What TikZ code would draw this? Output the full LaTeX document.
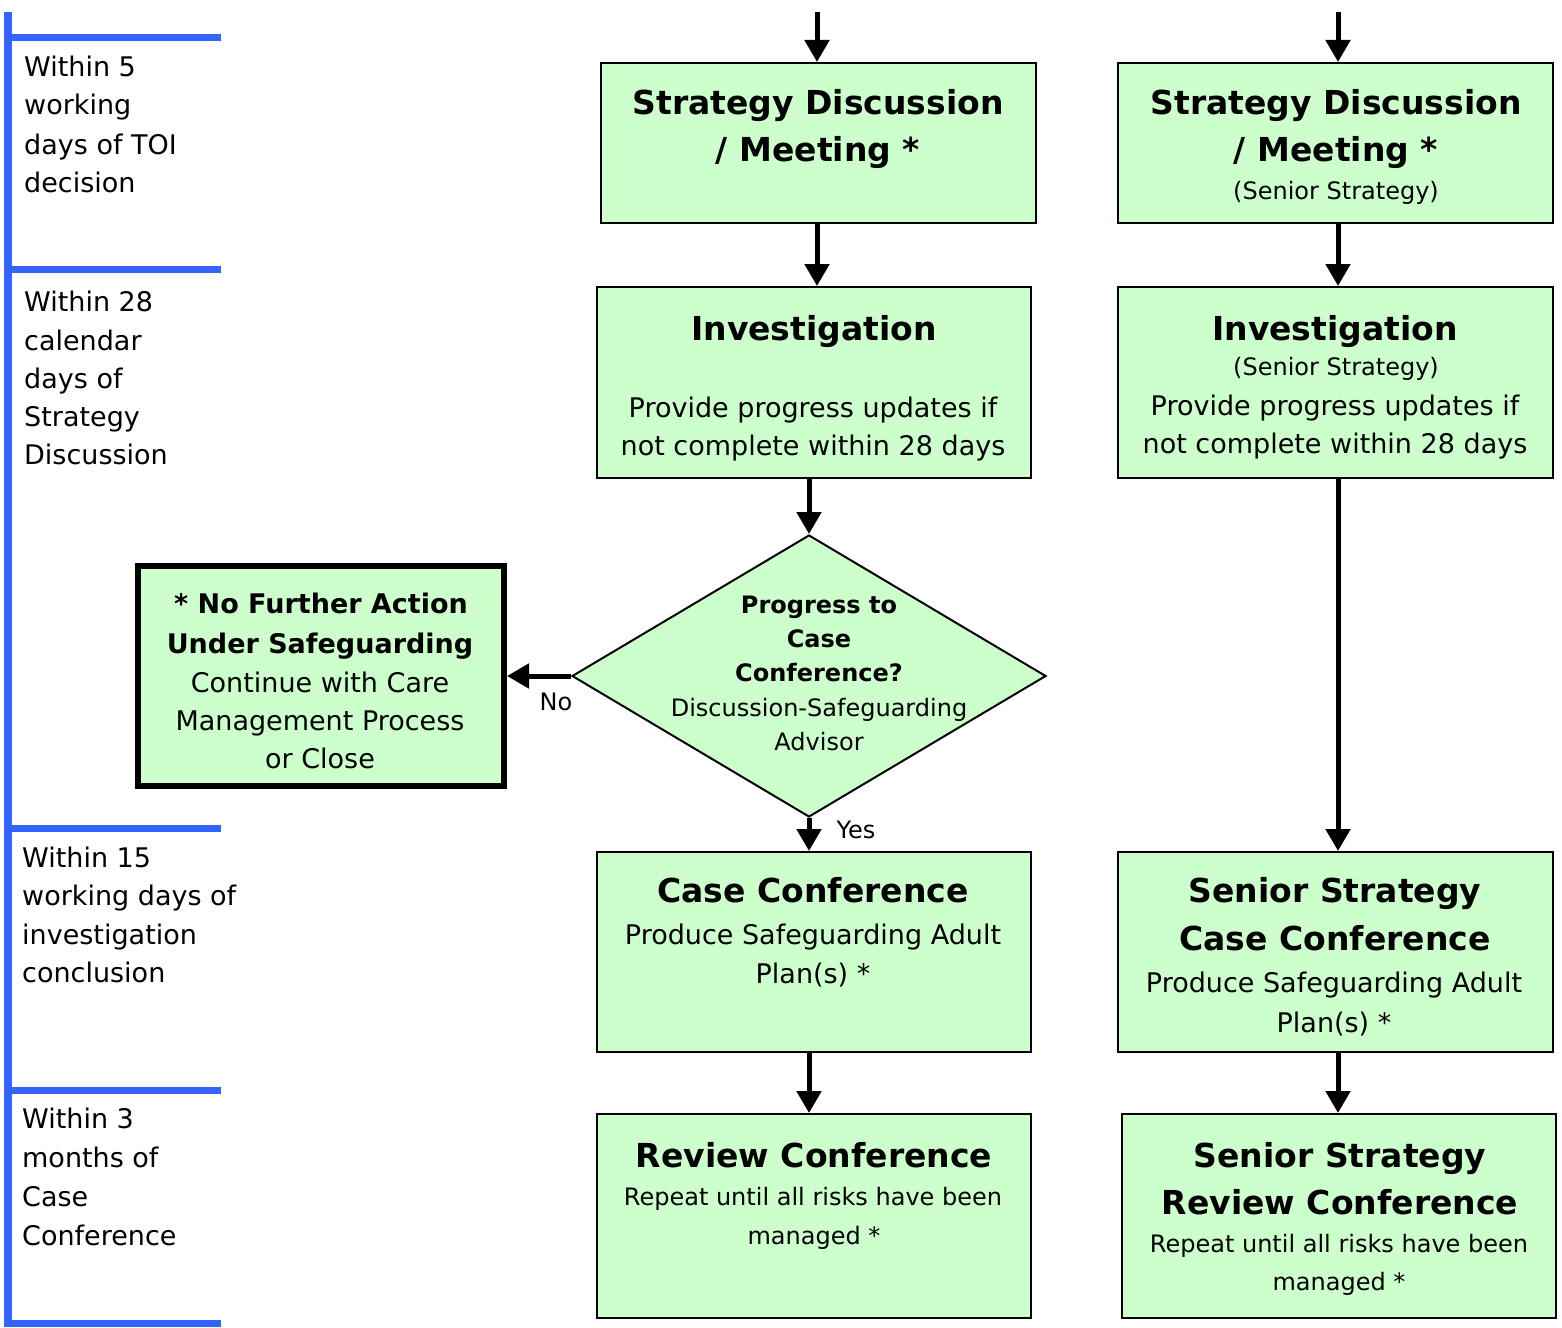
\documentclass[tikz,border=0pt]{standalone}
\usepackage{fontspec}
\setmainfont{DejaVu Sans}
\usetikzlibrary{arrows.meta,shapes.geometric}
\definecolor{boxgreen}{HTML}{CCFFCC}
\definecolor{lineblue}{RGB}{50,100,255}
\tikzset{
  box/.style={draw=black, line width=2pt, fill=boxgreen, inner sep=0pt},
  flow/.style={line width=5pt, -{Triangle[width=24pt,length=22pt]}},
  blueline/.style={draw=lineblue, line width=7pt},
  tx/.style={anchor=base, inner sep=0pt},
  lab/.style={anchor=base west, inner sep=0pt, font=\fontsize{27}{32}\selectfont},
  reg/.style={tx, font=\fontsize{27}{32}\selectfont},
  sm/.style={tx, font=\fontsize{24}{29}\selectfont},
  bt/.style={tx, font=\fontsize{33}{40}\selectfont\bfseries},
  bmid/.style={tx, font=\fontsize{27}{32}\selectfont\bfseries},
  bsm/.style={tx, font=\fontsize{24}{29}\selectfont\bfseries},
}
\begin{document}
\begin{tikzpicture}[x=1pt,y=-1pt]
\useasboundingbox (0,0) rectangle (1562,1327);
% timeline
\draw[draw=lineblue, line width=8pt] (8,12) -- (8,1327);
\foreach \yy in {38,269,828,1090,1323} \draw[blueline] (8,\yy) -- (221,\yy);
% left labels
\node[lab] (g1a) at (24,77) {Within 5};
\node[lab] (g1b) at (24,115) {working};
\node[lab] (g1c) at (24,154) {days of TOI};
\node[lab] (g1d) at (24,192) {decision};
\node[lab] (g2a) at (24,311) {Within 28};
\node[lab] (g2b) at (24,350) {calendar};
\node[lab] (g2c) at (24,388) {days of};
\node[lab] (g2d) at (24,426) {Strategy};
\node[lab] (g2e) at (24,464) {Discussion};
\node[lab] (g3a) at (22,867) {Within 15};
\node[lab] (g3b) at (22,905) {working days of};
\node[lab] (g3c) at (22,944) {investigation};
\node[lab] (g3d) at (22,982) {conclusion};
\node[lab] (g4a) at (22,1128) {Within 3};
\node[lab] (g4b) at (22,1167) {months of};
\node[lab] (g4c) at (22,1206) {Case};
\node[lab] (g4d) at (22,1245) {Conference};
% boxes
\node[box, minimum width=435pt, minimum height=160pt] (A) at (818.5,143) {};
\node[box, minimum width=435pt, minimum height=160pt] (B) at (1335.5,143) {};
\node[box, minimum width=434pt, minimum height=191pt] (C) at (814,382.5) {};
\node[box, minimum width=435pt, minimum height=191pt] (D) at (1335.5,382.5) {};
\node[draw=black, fill=boxgreen, line width=2pt, diamond, inner sep=0pt, minimum width=474pt, minimum height=282pt] (dia) at (809,676) {};
\node[draw=black, fill=boxgreen, line width=6pt, inner sep=0pt, minimum width=366pt, minimum height=220pt] (N) at (321,676) {};
\node[box, minimum width=434pt, minimum height=200pt] (CC) at (814,952) {};
\node[box, minimum width=435pt, minimum height=200pt] (SC) at (1335.5,952) {};
\node[box, minimum width=434pt, minimum height=204pt] (RC) at (814,1216) {};
\node[box, minimum width=434pt, minimum height=204pt] (SR) at (1339,1216) {};
% texts
\node[bt] (a1) at (818,114) {Strategy Discussion};
\node[bt] (a2) at (818,161) {/ Meeting *};
\node[bt] (b1) at (1336,114) {Strategy Discussion};
\node[bt] (b2) at (1336,161) {/ Meeting *};
\node[sm] (b3) at (1336,199) {(Senior Strategy)};
\node[bt] (c1) at (814,340) {Investigation};
\node[reg] (c2) at (813,417) {Provide progress updates if};
\node[reg] (c3) at (813,455) {not complete within 28 days};
\node[bt] (d1) at (1335,340) {Investigation};
\node[sm] (d2) at (1336,375) {(Senior Strategy)};
\node[reg] (d3) at (1335,415) {Provide progress updates if};
\node[reg] (d4) at (1335,453) {not complete within 28 days};
\node[bsm] (p1) at (819,613) {Progress to};
\node[bsm] (p2) at (819,647) {Case};
\node[bsm] (p3) at (819,681) {Conference?};
\node[sm] (p4) at (819,716) {Discussion-Safeguarding};
\node[sm] (p5) at (819,750) {Advisor};
\node[bmid] (n1) at (321,613) {* No Further Action};
\node[bmid] (n2) at (320,653) {Under Safeguarding};
\node[reg] (n3) at (320,692) {Continue with Care};
\node[reg] (n4) at (320,730) {Management Process};
\node[reg] (n5) at (320,768) {or Close};
\node[bt] (e1) at (813,902) {Case Conference};
\node[reg] (e2) at (813,944) {Produce Safeguarding Adult};
\node[reg] (e3) at (813,983) {Plan(s) *};
\node[bt] (f1) at (1335,902) {Senior Strategy};
\node[bt] (f2) at (1335,950) {Case Conference};
\node[reg] (f3) at (1334,992) {Produce Safeguarding Adult};
\node[reg] (f4) at (1334,1032) {Plan(s) *};
\node[bt] (r1) at (814,1167) {Review Conference};
\node[sm] (r2) at (813,1205) {Repeat until all risks have been};
\node[sm] (r3) at (814,1244) {managed *};
\node[bt] (s1) at (1340,1167) {Senior Strategy};
\node[bt] (s2) at (1340,1214) {Review Conference};
\node[sm] (s3) at (1339,1252) {Repeat until all risks have been};
\node[sm] (s4) at (1339,1290) {managed *};
% connectors
\coordinate (topL) at (817,12);
\coordinate (topR) at (1338,12);
\draw[flow] (topL) -- (topL |- A.north);
\draw[flow] (topR) -- (topR |- B.north);
\draw[flow] (topL |- A.south) -- (topL |- C.north);
\draw[flow] (topR |- B.south) -- (topR |- D.north);
\draw[flow] (dia.north |- C.south) -- (dia.north);
\draw[flow] (topR |- D.south) -- (topR |- SC.north);
\draw[flow] (dia.west) -- (N.east);
\draw[flow] (dia.south) -- (dia.south |- CC.north);
\draw[flow] (dia.south |- CC.south) -- (dia.south |- RC.north);
\draw[flow] (topR |- SC.south) -- (topR |- SR.north);
\node[sm] (no) at (556,710) {No};
\node[sm] (yes) at (856,838) {Yes};
\end{tikzpicture}
\end{document}
